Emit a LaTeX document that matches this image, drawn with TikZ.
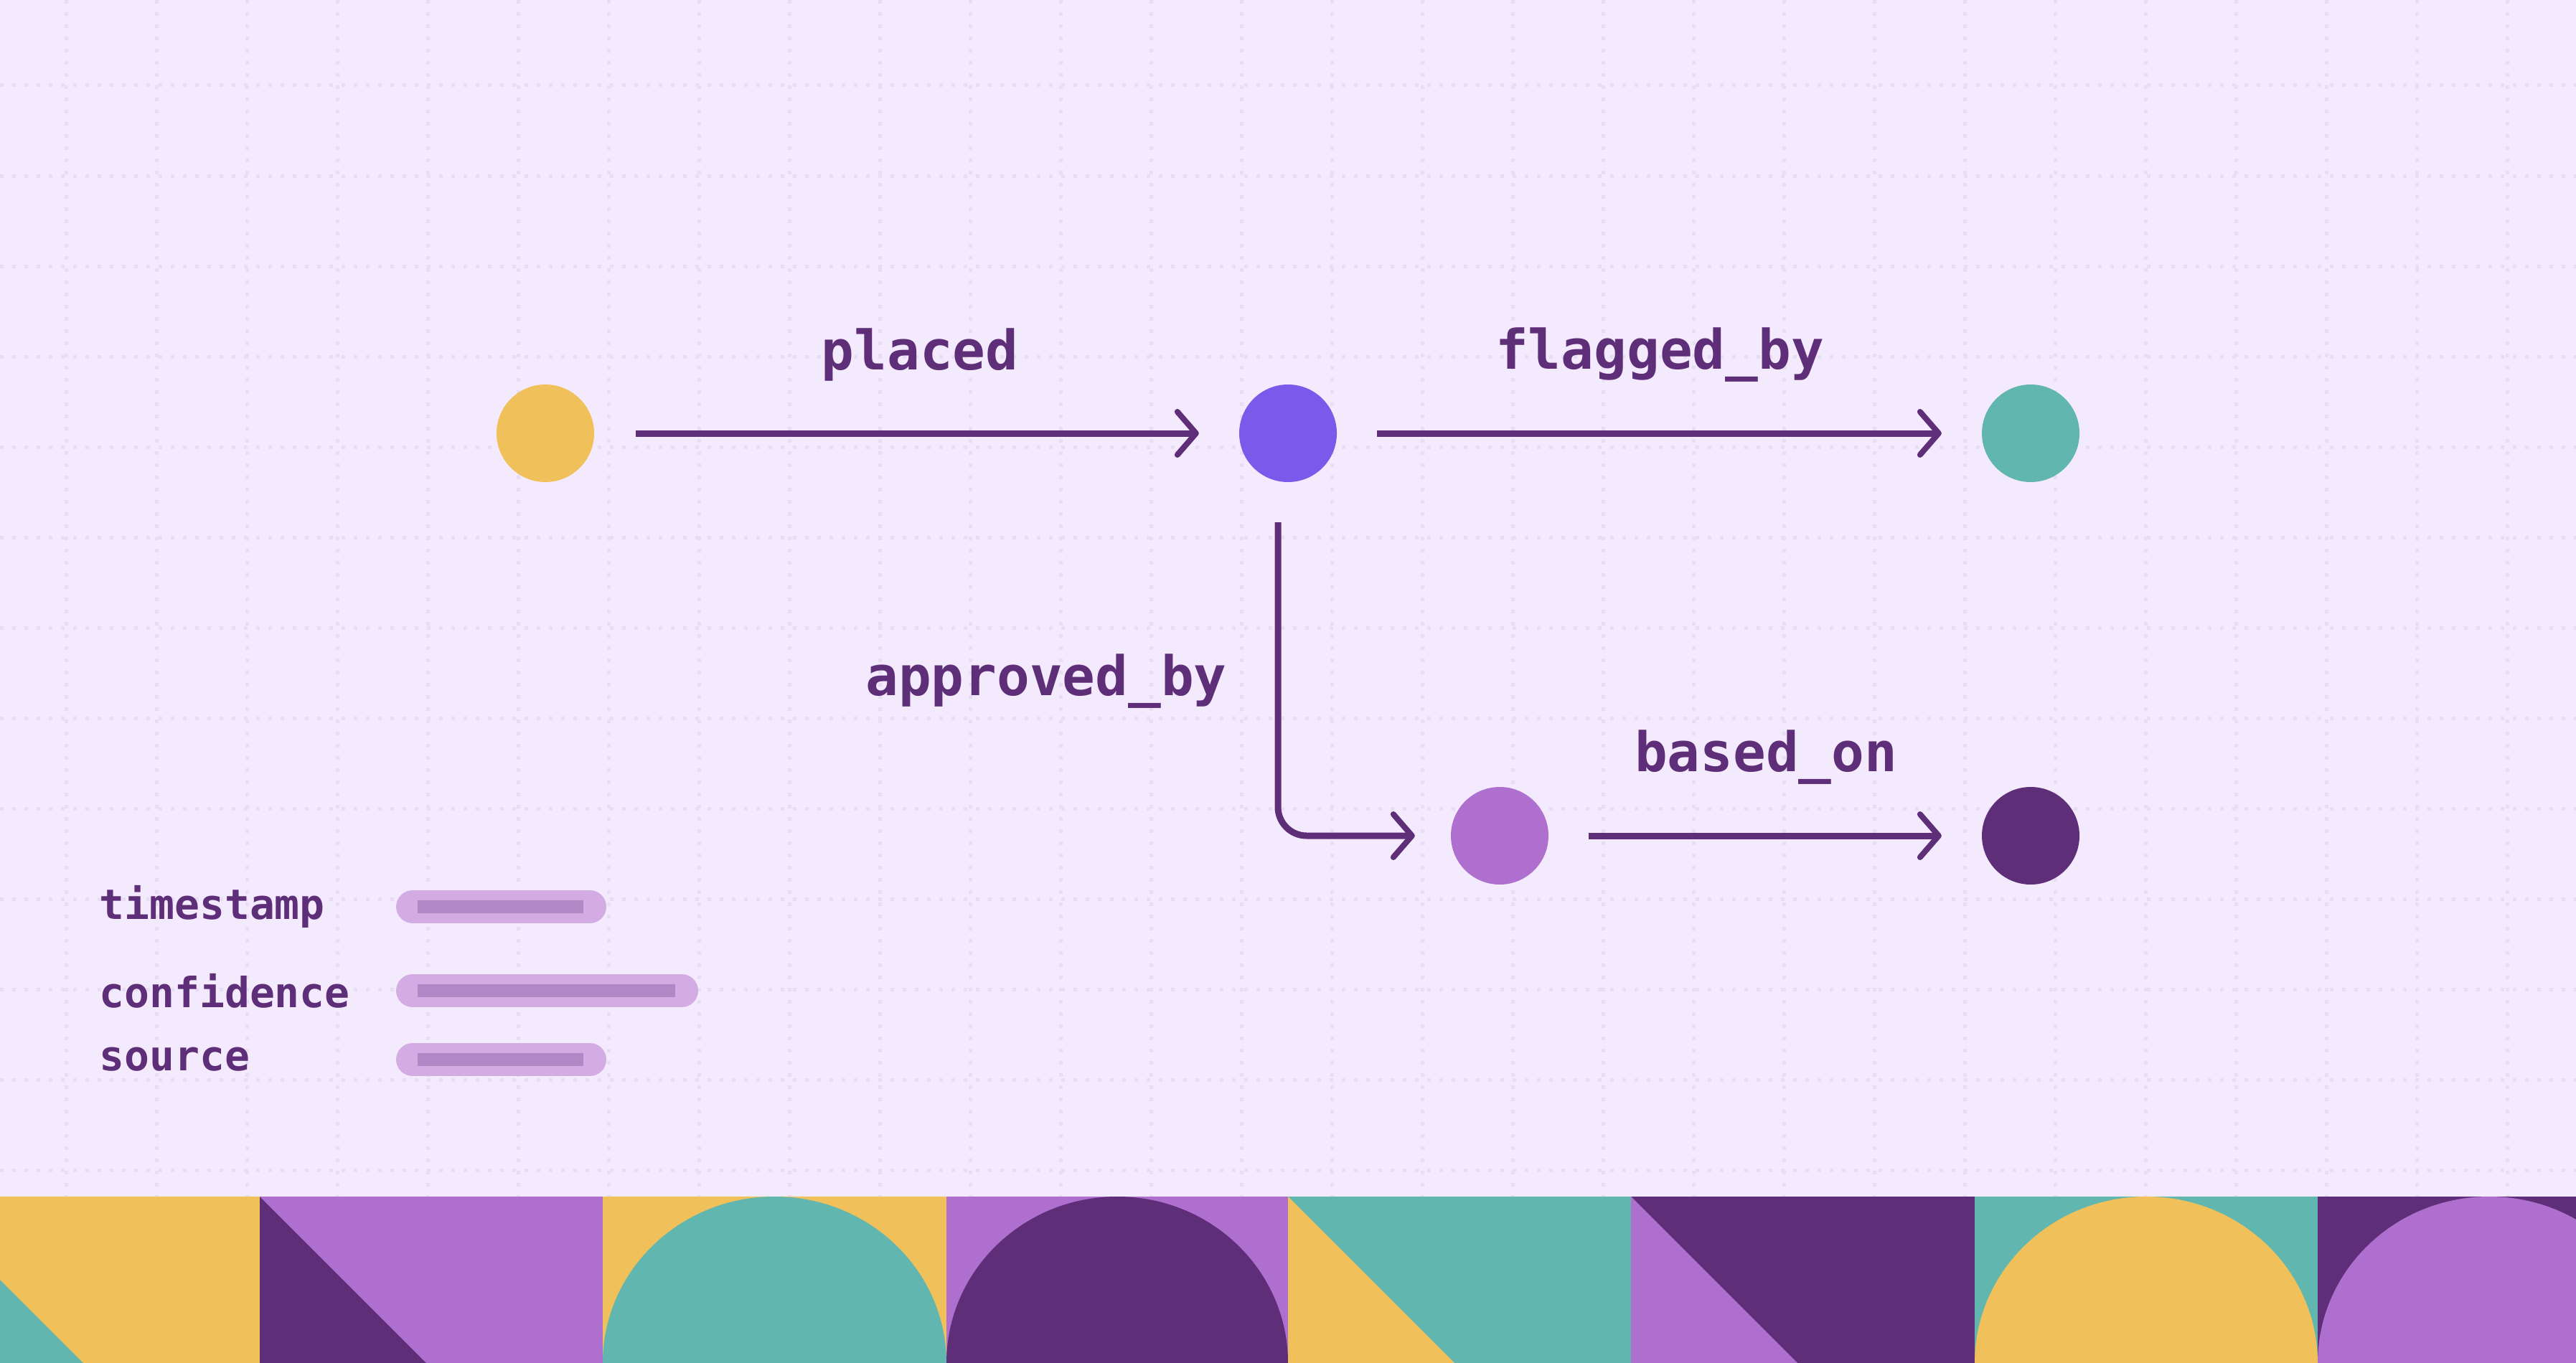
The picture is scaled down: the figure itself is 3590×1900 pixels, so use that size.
\documentclass[tikz,border=0pt]{standalone}
\usepackage{fontspec}
\setmonofont{DejaVu Sans Mono}
\usetikzlibrary{arrows.meta}
\definecolor{bg}{HTML}{F3EBFD}
\definecolor{gridc}{HTML}{E8DEF3}
\definecolor{cyel}{HTML}{F0C05A}
\definecolor{cvio}{HTML}{7B5AEB}
\definecolor{cteal}{HTML}{62B6B0}
\definecolor{clil}{HTML}{AE6FCE}
\definecolor{cdark}{HTML}{5E2F78}
\definecolor{pill}{HTML}{D4ACE4}
\definecolor{pillin}{HTML}{B088C6}
\tikzset{
 dot/.style={circle,minimum size=136pt,inner sep=0pt,fill=#1},
 edge/.style={draw=cdark,line width=9pt,-{Straight Barb[length=26pt,width=60pt,line width=8pt,round]}},
 elabel/.style={text=cdark,font=\ttfamily\bfseries\fontsize{76}{80}\selectfont},
 leg/.style={text=cdark,font=\ttfamily\bfseries\fontsize{58}{62}\selectfont,anchor=west},
}
\begin{document}
\begin{tikzpicture}[x=1pt,y=-1pt]
\fill[bg] (0,0) rectangle (3590,1900);
\useasboundingbox (0,0) rectangle (3590,1900);
% grid
\foreach \x in {92,218,...,3590} \draw[gridc,line width=5pt,dash pattern=on 5pt off 12pt] (\x,0) -- (\x,1668);
\foreach \y in {119,245,...,1668} \draw[gridc,line width=5pt,dash pattern=on 5pt off 12pt] (0,\y) -- (3590,\y);
% tiles
\begin{scope}
\clip (0,1668) rectangle (3590,1900);
\fill[cyel] (-116,1668) rectangle (362,1900);
\fill[cteal] (-116,1668) -- (-116,1900) -- (116,1900) -- cycle;
\fill[clil] (362,1668) rectangle (840,1900);
\fill[cdark] (362,1668) -- (362,1900) -- (594,1900) -- cycle;
\fill[cyel] (840,1668) rectangle (1319,1900);
\fill[cteal] (840,1900) arc[start angle=180,end angle=360,x radius=239.5,y radius=232] -- cycle;
\fill[clil] (1319,1668) rectangle (1795,1900);
\fill[cdark] (1319,1900) arc[start angle=180,end angle=360,x radius=238,y radius=232] -- cycle;
\fill[cteal] (1795,1668) rectangle (2273,1900);
\fill[cyel] (1795,1668) -- (1795,1900) -- (2027,1900) -- cycle;
\fill[cdark] (2273,1668) rectangle (2752,1900);
\fill[clil] (2273,1668) -- (2273,1900) -- (2505,1900) -- cycle;
\fill[cteal] (2752,1668) rectangle (3230,1900);
\fill[cyel] (2752,1900) arc[start angle=180,end angle=360,x radius=239,y radius=232] -- cycle;
\fill[cdark] (3230,1668) rectangle (3710,1900);
\fill[clil] (3230,1900) arc[start angle=180,end angle=360,x radius=239,y radius=232] -- cycle;
\end{scope}
% nodes
\node[dot=cyel] (a) at (760,604) {};
\node[dot=cvio] (b) at (1795,604) {};
\node[dot=cteal] (c) at (2830,604) {};
\node[dot=clil] (d) at (2090,1165) {};
\node[dot=cdark] (e) at (2830,1165) {};
\coordinate (bd) at (1781,728);
\draw[edge] ([xshift=58pt]a.east) -- ([xshift=-56pt]b.west);
\draw[edge] ([xshift=56pt]b.east) -- ([xshift=-56pt]c.west);
\draw[edge,rounded corners=40pt] (bd) |- ([xshift=-50pt]d.west);
\draw[edge] ([xshift=56pt]d.east) -- ([xshift=-56pt]e.west);
\node[elabel] (l1) at (1282,495) {placed};
\node[elabel] (l2) at (2313,495) {flagged\_by};
\node[elabel] (l3) at (1458,950) {approved\_by};
\node[elabel] (l4) at (2461,1056) {based\_on};
% legend
\node[leg] (t1) at (135,1264) {timestamp};
\node[leg] (t2) at (135,1381) {confidence};
\node[leg] (t3) at (135,1477) {source};
\foreach \y/\w in {1264/845,1381/973,1477/845}{
 \draw[pill,line width=46pt,line cap=round] (575,\y) -- (\w-23,\y);
 \fill[pillin] (582,\y-9) rectangle (\w-32,\y+9);
}
\end{tikzpicture}
\end{document}
